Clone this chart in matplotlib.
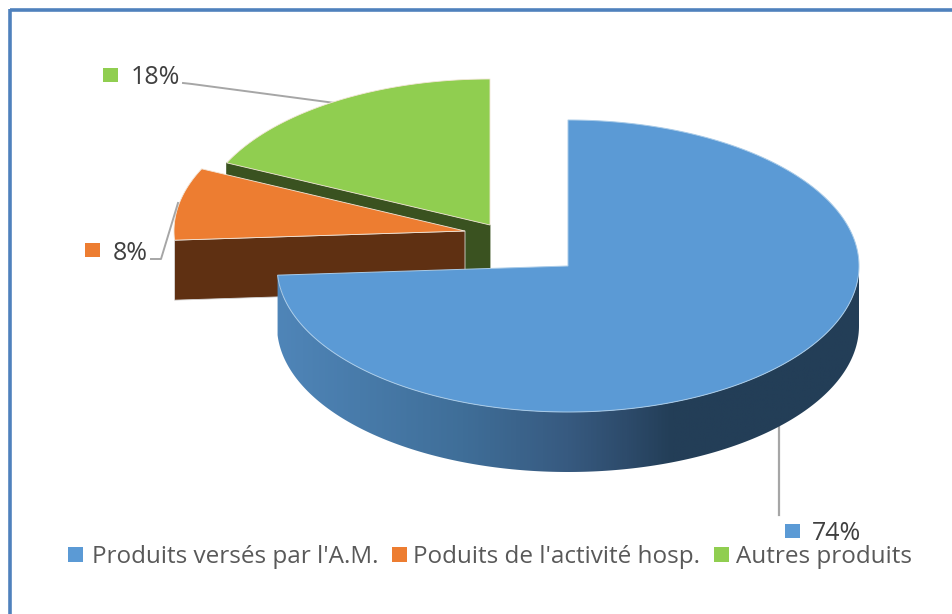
# -*- coding: utf-8 -*-
import numpy as np
import matplotlib
matplotlib.use("Agg")
import matplotlib.pyplot as plt
from matplotlib.patches import Polygon, Rectangle
from matplotlib.colors import LinearSegmentedColormap

# donnees
labels = ["Produits versés par l'A.M.", "Poduits de l'activité hosp.", "Autres produits"]
shares = [74, 8, 18]

# couleurs
top_colors = ["#5b9ad5", "#ed7d31", "#90ce50"]
side_colors = ["#4f81b5", "#5f3012", "#3a5220"]
wall_stops = [(0, "#4f85b8"), (0.32, "#3f6e98"), (0.5, "#375a80"), (0.6, "#2d4b6b"), (0.68, "#233e57"), (1, "#233e57")]

# geometrie (pixels de l'image)
W, H = 952, 614
rx, ry, depth = 291, 146, 60
centers = [(568, 266), (465, 231), (490, 225)]

plt.rcParams['font.family'] = ['Open Sans', 'DejaVu Sans']

fig = plt.figure(figsize=(W / 100, H / 100), dpi=100)
ax = fig.add_axes([0, 0, 1, 1])
ax.set_xlim(0, W)
ax.set_ylim(H, 0)
ax.axis("off")


def arc(c, a0, a1, n=200):
    t = np.radians(np.linspace(a0, a1, n))
    return np.column_stack([c[0] + rx * np.cos(t), c[1] - ry * np.sin(t)])


# angles des parts, sens horaire depuis le haut
edges = 90 - np.cumsum([0] + shares) * 3.6

# faces de coupe, du fond vers l'avant
for i in [2, 1]:
    c = centers[i]
    p = arc(c, edges[i], edges[i], 1)[0]
    cut = [c, p, (p[0], p[1] + depth), (c[0], c[1] + depth)]
    ax.add_patch(Polygon(cut, closed=True, fc=side_colors[i], ec="#d8d8d8" if i == 1 else side_colors[i], lw=0.6, zorder=2 + (2 - i) * 2))
    pts = np.vstack([[c], arc(c, edges[i], edges[i + 1])])
    ax.add_patch(Polygon(pts, closed=True, fc=top_colors[i], ec="#f3e6d8", lw=0.6, zorder=3 + (2 - i) * 2))

# part principale : paroi en degrade puis dessus
c = centers[0]
front = arc(c, 0, edges[1])
wall = np.vstack([front, (front + [0, depth])[::-1]])
wall_patch = Polygon(wall, closed=True, fc="none", ec="none", zorder=8)
ax.add_patch(wall_patch)
cmap = LinearSegmentedColormap.from_list("wall", wall_stops)
grad = ax.imshow(np.linspace(0, 1, 400)[None, :], cmap=cmap, aspect="auto",
                 extent=[c[0] - rx, c[0] + rx, c[1] + ry + depth, c[1]], zorder=8)
grad.set_clip_path(wall_patch)
ax.set_xlim(0, W)
ax.set_ylim(H, 0)
pts = np.vstack([[c], arc(c, edges[0], edges[1], 400)])
ax.add_patch(Polygon(pts, closed=True, fc=top_colors[0], ec="#a9cbe8", lw=0.7, zorder=9))

# traits de rappel
lead = "#a6a6a6"
ax.plot([183, 192, 335], [83, 84, 103], color=lead, lw=1.4, zorder=1)
ax.plot([151, 161, 178], [259, 259, 203], color=lead, lw=1.4, zorder=10)
ax.plot([779, 779], [420, 515], color=lead, lw=1.6, zorder=1)

# etiquettes
pct_pos = [(812, 533), (113, 253), (131, 78)]
pct_box = [(785, 524), (85, 243), (103, 68)]
for i, s in enumerate(shares):
    ax.add_patch(Rectangle(pct_box[i], 14.5, 14, fc=top_colors[i], ec="none", zorder=10))
    ax.text(pct_pos[i][0], pct_pos[i][1], "%d%%" % s, fontsize=18, color="#404040", va="center", ha="left", zorder=11)

# legende
leg_box = [68, 392, 714]
leg_txt = [92, 413, 736]
for i, lab in enumerate(labels):
    ax.add_patch(Rectangle((leg_box[i], 547), 14.5, 15, fc=top_colors[i], ec="none", zorder=10))
    ax.text(leg_txt[i], 563, lab, fontsize=17.5, color="#595959", va="baseline", ha="left", zorder=11)

# cadre haut et gauche seulement
ax.plot([10, W], [10, 10], color="#4f81bd", lw=2.6, zorder=12, solid_capstyle="butt")
ax.plot([10, 10], [9, H], color="#4f81bd", lw=2.6, zorder=12, solid_capstyle="butt")

fig.savefig("out.png", dpi=100)
